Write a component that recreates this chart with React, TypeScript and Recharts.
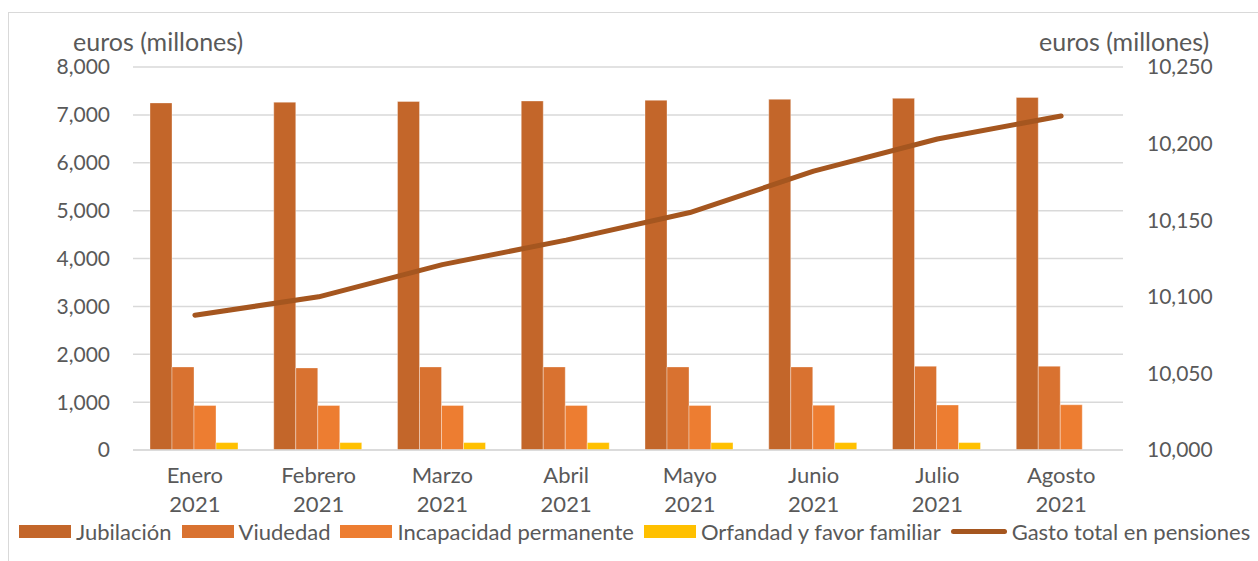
import React from 'react';
import { ComposedChart, Bar, Line, XAxis, YAxis, CartesianGrid } from 'recharts';

// Monthly pension spending, 2021 (millions of euros)
const months = ['Enero', 'Febrero', 'Marzo', 'Abril', 'Mayo', 'Junio', 'Julio', 'Agosto'];
const year = '2021';
const jubilacion = [7250, 7265, 7280, 7290, 7305, 7325, 7345, 7365];
const viudedad = [1735, 1715, 1735, 1735, 1735, 1735, 1750, 1750];
const incapacidad = [930, 930, 930, 930, 930, 935, 940, 945];
const orfandad: (number | null)[] = [155, 155, 155, 155, 155, 155, 155, null];
const gastoTotal = [10088, 10100, 10121, 10137, 10155, 10182, 10203, 10218];

const leftTicks = [0, 1000, 2000, 3000, 4000, 5000, 6000, 7000, 8000];
const rightTicks = [10000, 10050, 10100, 10150, 10200, 10250];
const axisTitle = 'euros (millones)';

const barSeries = [
  { key: 'jubilacion', name: 'Jubilación', color: '#C3662A' },
  { key: 'viudedad', name: 'Viudedad', color: '#D97230' },
  { key: 'incapacidad', name: 'Incapacidad permanente', color: '#ED7D31' },
  { key: 'orfandad', name: 'Orfandad y favor familiar', color: '#FFC000' },
];
const lineSeries = { key: 'gasto', name: 'Gasto total en pensiones', color: '#A5561F' };

const data = months.map((m, i) => ({
  mes: m,
  jubilacion: jubilacion[i],
  viudedad: viudedad[i],
  incapacidad: incapacidad[i],
  orfandad: orfandad[i],
  gasto: gastoTotal[i],
}));

const FONT = 'Lato, "Open Sans", sans-serif';
const TEXT = '#595959';
const fmt = (v: number) => v.toLocaleString('en-US');

const MonthTick = (props: any) => {
  const { x, y, payload } = props;
  return (
    <g transform={`translate(${x},${y})`}>
      <text textAnchor="middle" fill={TEXT} fontSize={22} fontFamily={FONT}>
        <tspan x={0} dy={33}>{payload.value}</tspan>
        <tspan x={0} dy={29}>{year}</tspan>
      </text>
    </g>
  );
};

const titleStyle: React.CSSProperties = {
  position: 'absolute',
  top: 29,
  fontFamily: FONT,
  fontSize: 25,
  lineHeight: '24px',
  color: TEXT,
  whiteSpace: 'nowrap',
};

export default function App() {
  return (
    <div style={{ position: 'relative', width: 1258, height: 561, overflow: 'hidden', background: '#fff' }}>
      <style>{'body{margin:0;overflow:hidden}'}</style>
      <div
        style={{
          position: 'absolute',
          left: 8,
          top: 12,
          width: 1400,
          height: 700,
          borderLeft: '1px solid #d9d9d9',
          borderTop: '1px solid #d9d9d9',
        }}
      />
      <div style={{ ...titleStyle, left: 73 }}>{axisTitle}</div>
      <div style={{ ...titleStyle, left: 1039 }}>{axisTitle}</div>
      <div style={{ position: 'absolute', left: 0, top: 0 }}>
        <ComposedChart
          width={1258}
          height={561}
          data={data}
          margin={{ top: 67, right: 0, bottom: 41, left: 0 }}
          barCategoryGap={17}
          barGap={0}
        >
          <CartesianGrid yAxisId="left" vertical={false} stroke="#d9d9d9" strokeWidth={1.5} />
          <XAxis
            dataKey="mes"
            tick={<MonthTick />}
            tickLine={false}
            tickSize={0}
            tickMargin={0}
            axisLine={{ stroke: '#d9d9d9', strokeWidth: 1.5 }}
            height={70}
            interval={0}
          />
          <YAxis
            yAxisId="left"
            orientation="left"
            width={133}
            domain={[0, 8000]}
            ticks={leftTicks}
            tickFormatter={fmt}
            axisLine={false}
            tickLine={false}
            tickSize={0}
            tickMargin={23}
            tick={{ fill: TEXT, fontSize: 21, fontFamily: FONT }}
            interval={0}
          />
          <YAxis
            yAxisId="right"
            orientation="right"
            width={135}
            domain={[10000, 10250]}
            ticks={rightTicks}
            tickFormatter={fmt}
            axisLine={false}
            tickLine={false}
            tickSize={0}
            tickMargin={24}
            tick={{ fill: TEXT, fontSize: 21, fontFamily: FONT, textAnchor: 'start' }}
            interval={0}
            allowDataOverflow
          />
          {barSeries.map((s) => (
            <Bar
              key={s.key}
              yAxisId="left"
              dataKey={s.key}
              name={s.name}
              fill={s.color}
              stroke="#ffffff"
              strokeOpacity={0.35}
              strokeWidth={1}
              isAnimationActive={false}
            />
          ))}
          <Line
            yAxisId="right"
            type="linear"
            dataKey={lineSeries.key}
            name={lineSeries.name}
            stroke={lineSeries.color}
            strokeWidth={5}
            strokeLinecap="round"
            strokeLinejoin="round"
            dot={false}
            activeDot={false}
            isAnimationActive={false}
          />
        </ComposedChart>
      </div>
      <div
        style={{
          position: 'absolute',
          left: 19,
          top: 518,
          display: 'flex',
          alignItems: 'center',
          whiteSpace: 'nowrap',
          fontFamily: FONT,
          fontSize: 22,
          color: TEXT,
          height: 27,
        }}
      >
        {barSeries.map((s) => (
          <div key={s.key} style={{ display: 'flex', alignItems: 'center', marginRight: 10 }}>
            <div style={{ width: 52, height: 13, background: s.color, marginRight: 5 }} />
            <span>{s.name}</span>
          </div>
        ))}
        <div style={{ display: 'flex', alignItems: 'center' }}>
          <div style={{ width: 56, height: 5, borderRadius: 3, background: lineSeries.color, marginRight: 5 }} />
          <span>{lineSeries.name}</span>
        </div>
      </div>
    </div>
  );
}
